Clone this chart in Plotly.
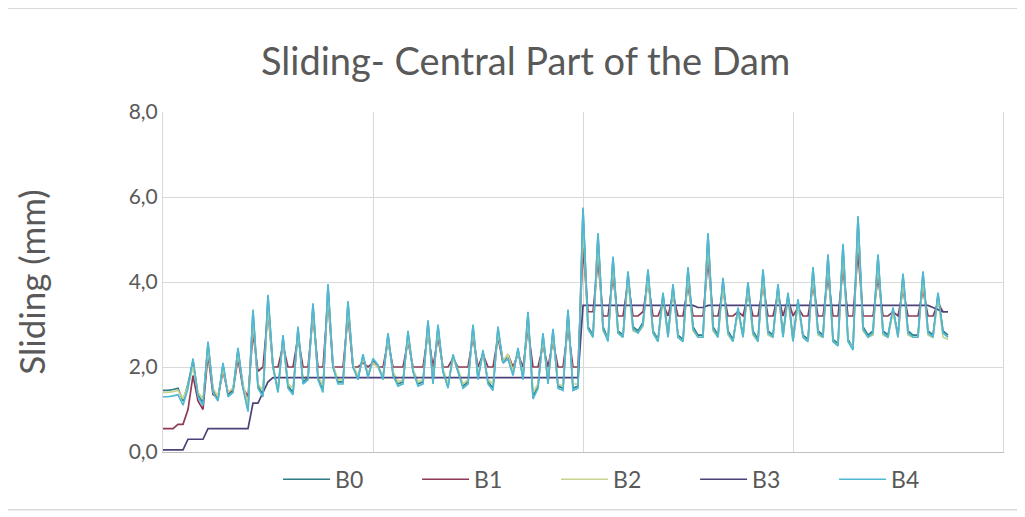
import plotly.graph_objects as go

# day index (one value per reading)
day = list(range(158))

b0 = [1.45, 1.45, 1.47, 1.5, 1.2, 1.6, 2.15, 1.35, 1.15, 2.55,
      1.45, 1.25, 2.05, 1.35, 1.45, 2.4, 1.55, 1.0, 3.3, 1.55,
      1.35, 3.65, 2.0, 1.45, 2.7, 1.55, 1.4, 2.9, 1.65, 1.75,
      3.45, 1.75, 1.45, 3.9, 2.0, 1.65, 1.65, 3.5, 2.0, 1.75,
      2.25, 1.8, 2.15, 2.0, 1.75, 2.75, 1.85, 1.6, 1.65, 2.8,
      1.9, 1.6, 1.65, 3.05, 1.65, 2.95, 1.9, 1.55, 2.25, 1.9,
      1.55, 1.65, 2.95, 1.75, 2.35, 1.65, 1.5, 2.9, 2.1, 2.2,
      1.85, 2.4, 1.75, 3.25, 1.3, 1.55, 2.75, 1.65, 2.85, 1.55,
      1.5, 3.3, 1.5, 1.55, 5.7, 2.95, 2.75, 5.1, 2.95, 2.65,
      4.55, 2.85, 2.75, 4.2, 2.95, 2.85, 3.05, 4.25, 2.85, 2.65,
      3.7, 2.75, 3.9, 2.75, 2.65, 4.3, 2.95, 2.75, 2.75, 5.1,
      2.95, 2.75, 4.05, 2.85, 2.65, 3.35, 2.75, 3.95, 2.85, 2.65,
      4.25, 2.85, 2.75, 3.9, 2.75, 3.7, 2.65, 3.55, 2.75, 2.65,
      4.3, 2.85, 2.75, 4.6, 2.65, 2.55, 4.85, 2.65, 2.45, 5.5,
      2.95, 2.75, 2.85, 4.6, 2.85, 2.75, 3.35, 2.75, 4.15, 2.85,
      2.75, 2.75, 4.2, 2.85, 2.75, 3.7, 2.85, 2.75]

b1 = [0.55, 0.55, 0.55, 0.65, 0.65, 1.0, 1.8, 1.2, 1.0, 2.3,
      1.35, 1.3, 1.9, 1.4, 1.45, 2.2, 1.5, 1.3, 2.8, 1.9,
      2.0, 3.3, 2.0, 2.0, 2.5, 2.0, 2.0, 2.7, 2.0, 2.0,
      3.2, 2.0, 2.0, 3.6, 2.0, 2.0, 2.0, 3.2, 2.0, 2.0,
      2.1, 2.0, 2.1, 2.0, 2.0, 2.6, 2.0, 2.0, 2.0, 2.6,
      2.0, 2.0, 2.0, 2.8, 2.0, 2.7, 2.0, 2.0, 2.2, 2.0,
      2.0, 2.0, 2.7, 2.0, 2.3, 2.0, 2.0, 2.7, 2.1, 2.3,
      2.0, 2.3, 2.0, 2.9, 2.0, 2.0, 2.5, 2.0, 2.6, 2.0,
      2.0, 2.9, 2.0, 2.0, 4.8, 3.3, 3.3, 4.5, 3.2, 3.2,
      4.1, 3.2, 3.2, 4.0, 3.2, 3.2, 3.3, 4.0, 3.2, 3.2,
      3.5, 3.2, 3.7, 3.2, 3.2, 3.9, 3.2, 3.2, 3.2, 4.5,
      3.2, 3.2, 3.8, 3.2, 3.2, 3.3, 3.2, 3.7, 3.2, 3.2,
      3.9, 3.2, 3.2, 3.7, 3.2, 3.6, 3.2, 3.4, 3.2, 3.2,
      3.9, 3.2, 3.2, 4.1, 3.2, 3.2, 4.3, 3.2, 3.2, 4.7,
      3.2, 3.2, 3.2, 4.1, 3.2, 3.2, 3.3, 3.2, 3.8, 3.2,
      3.2, 3.2, 3.8, 3.2, 3.2, 3.5, 3.3, 3.3]

b2 = [1.4, 1.4, 1.42, 1.45, 1.25, 1.55, 2.0, 1.4, 1.25, 2.4,
      1.5, 1.3, 1.95, 1.4, 1.5, 2.3, 1.6, 1.1, 3.1, 1.6,
      1.45, 3.4, 2.0, 1.5, 2.6, 1.6, 1.5, 2.8, 1.7, 1.8,
      3.3, 1.8, 1.55, 3.7, 2.05, 1.7, 1.7, 3.35, 2.05, 1.8,
      2.2, 1.85, 2.1, 2.0, 1.8, 2.65, 1.9, 1.65, 1.7, 2.7,
      1.95, 1.65, 1.7, 2.9, 1.7, 2.85, 1.95, 1.6, 2.2, 1.95,
      1.6, 1.7, 2.85, 1.8, 2.3, 1.7, 1.6, 2.8, 2.15, 2.3,
      1.9, 2.35, 1.8, 3.1, 1.4, 1.6, 2.65, 1.7, 2.75, 1.6,
      1.55, 3.15, 1.6, 1.6, 5.4, 2.9, 2.7, 4.9, 2.85, 2.65,
      4.4, 2.8, 2.7, 4.05, 2.85, 2.8, 2.95, 4.1, 2.8, 2.6,
      3.6, 2.7, 3.8, 2.7, 2.6, 4.15, 2.85, 2.7, 2.7, 4.9,
      2.85, 2.7, 3.9, 2.75, 2.6, 3.3, 2.7, 3.85, 2.75, 2.6,
      4.1, 2.75, 2.7, 3.8, 2.7, 3.6, 2.6, 3.45, 2.7, 2.6,
      4.15, 2.75, 2.7, 4.45, 2.6, 2.5, 4.7, 2.6, 2.45, 5.3,
      2.85, 2.7, 2.75, 4.45, 2.75, 2.7, 3.3, 2.7, 4.0, 2.75,
      2.7, 2.7, 4.05, 2.75, 2.7, 3.6, 2.7, 2.65]

b3 = [0.05, 0.05, 0.05, 0.05, 0.05, 0.3, 0.3, 0.3, 0.3, 0.55,
      0.55, 0.55, 0.55, 0.55, 0.55, 0.55, 0.55, 0.55, 1.15, 1.15,
      1.4, 1.65, 1.75, 1.75, 1.75, 1.75, 1.75, 1.75, 1.75, 1.75,
      1.75, 1.75, 1.75, 1.75, 1.75, 1.75, 1.75, 1.75, 1.75, 1.75,
      1.75, 1.75, 1.75, 1.75, 1.75, 1.75, 1.75, 1.75, 1.75, 1.75,
      1.75, 1.75, 1.75, 1.75, 1.75, 1.75, 1.75, 1.75, 1.75, 1.75,
      1.75, 1.75, 1.75, 1.75, 1.75, 1.75, 1.75, 1.75, 1.75, 1.75,
      1.75, 1.75, 1.75, 1.75, 1.75, 1.75, 1.75, 1.75, 1.75, 1.75,
      1.75, 1.75, 1.75, 1.75, 3.45, 3.45, 3.45, 3.45, 3.45, 3.45,
      3.45, 3.45, 3.45, 3.45, 3.45, 3.45, 3.45, 3.45, 3.45, 3.45,
      3.45, 3.45, 3.45, 3.45, 3.45, 3.45, 3.45, 3.4, 3.4, 3.45,
      3.45, 3.45, 3.45, 3.45, 3.45, 3.45, 3.45, 3.45, 3.45, 3.45,
      3.45, 3.45, 3.45, 3.45, 3.45, 3.45, 3.45, 3.45, 3.45, 3.45,
      3.45, 3.45, 3.45, 3.45, 3.45, 3.45, 3.45, 3.45, 3.45, 3.45,
      3.45, 3.45, 3.45, 3.45, 3.45, 3.45, 3.45, 3.45, 3.45, 3.45,
      3.45, 3.45, 3.45, 3.45, 3.4, 3.35, 3.3, 3.3]

b4 = [1.3, 1.3, 1.32, 1.35, 1.1, 1.5, 2.2, 1.3, 1.1, 2.6,
      1.4, 1.2, 2.1, 1.3, 1.4, 2.45, 1.5, 0.95, 3.35, 1.5,
      1.3, 3.7, 2.0, 1.4, 2.75, 1.5, 1.35, 2.95, 1.6, 1.7,
      3.5, 1.7, 1.4, 3.95, 2.0, 1.6, 1.6, 3.55, 2.0, 1.7,
      2.3, 1.75, 2.2, 2.05, 1.7, 2.8, 1.8, 1.55, 1.6, 2.85,
      1.9, 1.55, 1.6, 3.1, 1.6, 3.0, 1.9, 1.5, 2.3, 1.9,
      1.5, 1.6, 3.0, 1.7, 2.4, 1.6, 1.45, 2.95, 2.1, 2.2,
      1.8, 2.45, 1.7, 3.3, 1.25, 1.5, 2.8, 1.6, 2.9, 1.5,
      1.45, 3.35, 1.45, 1.5, 5.75, 2.9, 2.7, 5.15, 2.9, 2.6,
      4.6, 2.8, 2.7, 4.25, 2.9, 2.8, 3.0, 4.3, 2.8, 2.6,
      3.75, 2.7, 3.95, 2.7, 2.6, 4.35, 2.9, 2.7, 2.7, 5.15,
      2.9, 2.7, 4.1, 2.8, 2.6, 3.4, 2.7, 4.0, 2.8, 2.6,
      4.3, 2.8, 2.7, 3.95, 2.7, 3.75, 2.6, 3.6, 2.7, 2.6,
      4.35, 2.8, 2.7, 4.65, 2.6, 2.5, 4.9, 2.6, 2.4, 5.55,
      2.9, 2.7, 2.8, 4.65, 2.8, 2.7, 3.4, 2.7, 4.2, 2.8,
      2.7, 2.7, 4.25, 2.8, 2.7, 3.75, 2.8, 2.7]

names = ['B0', 'B1', 'B2', 'B3', 'B4']
colors = ['#2f7b86', '#8e3b57', '#c8d48e', '#4a4279', '#4fb8d2']
series = [b0, b1, b2, b3, b4]

fig = go.Figure()
for name, vals, col in zip(names, series, colors):
    fig.add_trace(go.Scatter(x=day, y=vals, name=name, mode='lines',
                             line=dict(color=col, width=1.7)))

fig.update_layout(
    width=1025, height=517,
    paper_bgcolor='white', plot_bgcolor='white',
    separators=',.',
    font=dict(family='Lato', color='#595959', size=21),
    margin=dict(l=155, r=30, t=104, b=73),
    title=dict(text='Sliding- Central Part of the Dam', x=0.505, xanchor='center',
               y=0.896, yanchor='middle', font=dict(size=38, color='#595959')),
    showlegend=True,
    legend=dict(orientation='h', x=0.137, xanchor='left', y=-0.017, yanchor='top',
                entrywidth=77, itemwidth=47, tracegroupgap=0,
                font=dict(size=23, color='#595959')),
    shapes=[dict(type='rect', xref='paper', yref='paper', x0=-0.188, x1=1.02,
                 y0=-0.17, y1=1.305, line=dict(color='#d9d9d9', width=1.5))],
)
fig.update_xaxes(range=[0, 168], dtick=42, showticklabels=False, showgrid=True,
                 gridcolor='#d9d9d9', zeroline=False, showline=True,
                 linecolor='#bfbfbf')
fig.update_yaxes(range=[0, 8], dtick=2, tickformat='.1f', showgrid=True,
                 gridcolor='#d9d9d9', zeroline=False, showline=True, mirror=True,
                 linecolor='#d9d9d9', ticks='', ticklabelstandoff=0,
                 title=dict(text='Sliding (mm)', font=dict(size=35), standoff=72))

fig.write_html("out.html")
